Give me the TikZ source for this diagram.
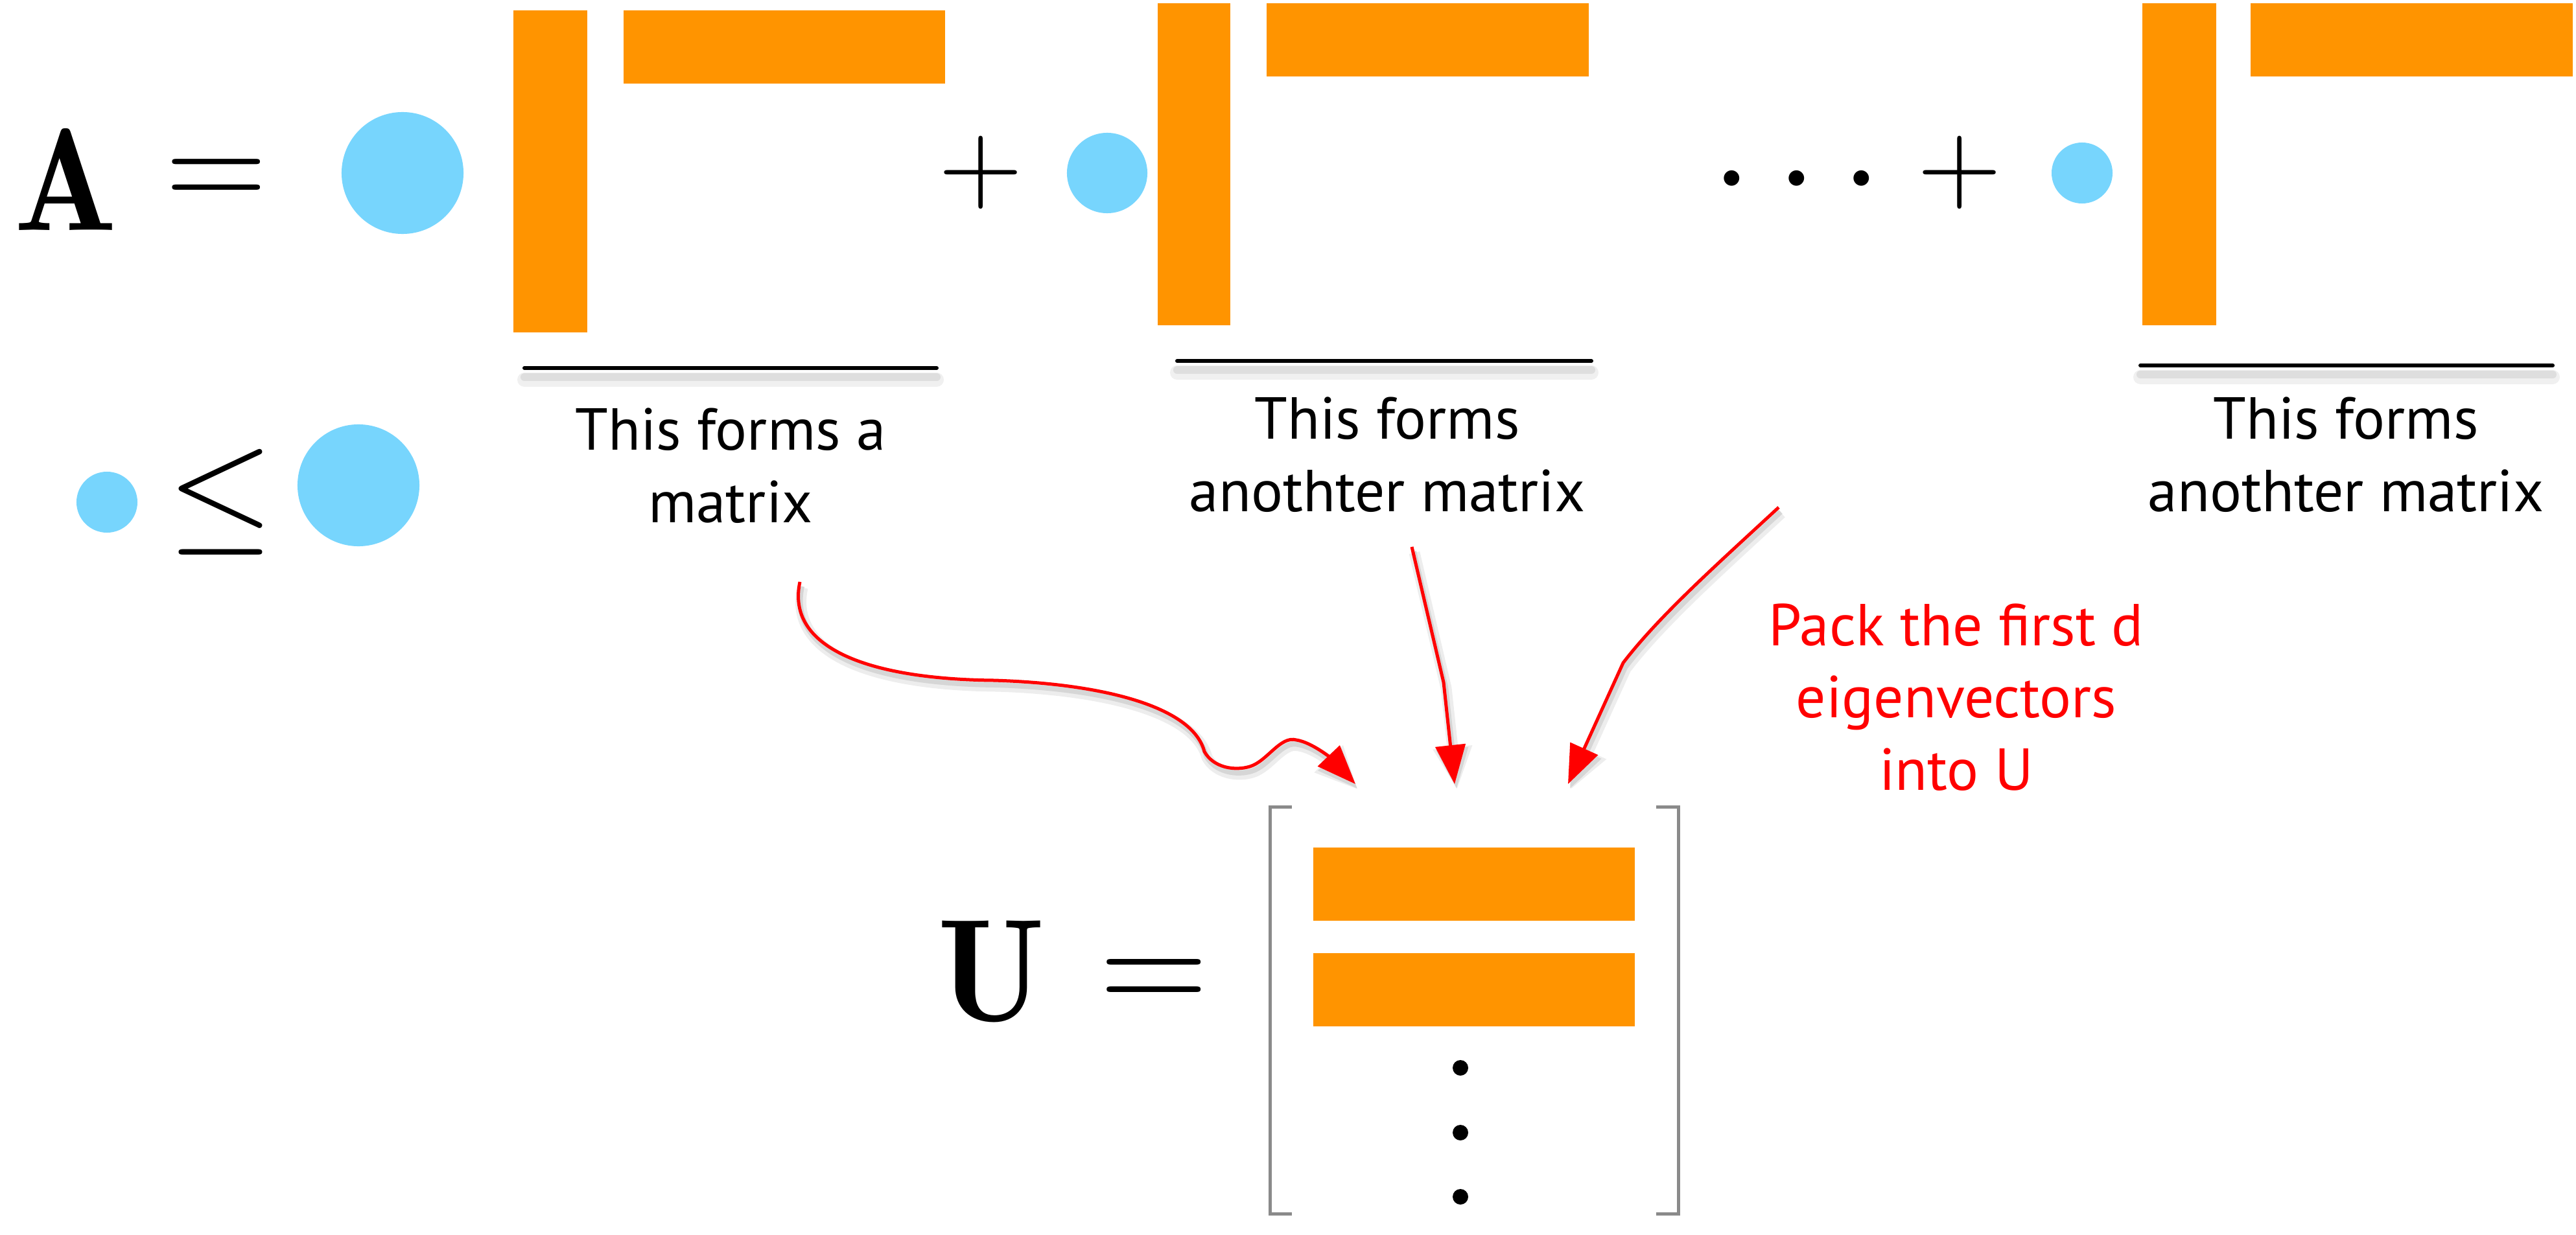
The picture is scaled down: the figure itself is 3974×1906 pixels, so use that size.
\documentclass[tikz,border=0pt]{standalone}
\usepackage{fontspec}
\newfontfamily\hand{PT Sans}
\usetikzlibrary{arrows.meta}
\definecolor{mango}{RGB}{255,148,0}
\definecolor{sky}{RGB}{119,213,253}
\definecolor{redline}{RGB}{255,0,0}
\definecolor{bracketgray}{RGB}{138,138,138}
\begin{document}
\begin{tikzpicture}[x=0.01cm,y=-0.01cm,
  bar/.style={fill=mango},
  dotc/.style={circle,fill=sky,inner sep=0,outer sep=0},
  mathsym/.style={inner sep=0,outer sep=0,font=\normalsize},
  caption/.style={font=\hand\fontsize{26}{31.6}\selectfont,align=center,inner sep=0,anchor=base},
  uline/.style={line width=0.06cm,line cap=round},
  ushadowa/.style={line width=0.22cm,black!6,line cap=round},
  ushadowb/.style={line width=0.12cm,black!13,line cap=round},
  redarrow/.style={draw=redline,line width=0.05cm,line join=round,-{Triangle[length=0.6cm,width=0.46cm]}},
  shadowa/.style={draw=black!7,line width=0.17cm,line join=round,-{Triangle[length=0.66cm,width=0.56cm]},transform canvas={shift={(0.04cm,-0.09cm)}}},
  shadowb/.style={draw=black!16,line width=0.08cm,line join=round,-{Triangle[length=0.62cm,width=0.48cm]},transform canvas={shift={(0.03cm,-0.07cm)}}},
]
\useasboundingbox (0,0) rectangle (3974,1906);

% --- top row: A = ...
\node[mathsym,anchor=base east,scale=6.4,xscale=0.93] (A) at (181,356) {$\mathbf{A}$};
\node[mathsym,scale=5.8] (eq1) at (334,283) {$=$};
\node[dotc,minimum size=1.88cm] (c1) at (621,267) {};
\fill[bar] (792,16) rectangle (906,513);
\fill[bar] (962,16) rectangle (1458,129);
\node[mathsym,scale=4.8] (plus1) at (1513,266) {$+$};
\node[dotc,minimum size=1.24cm] (c2) at (1708,267) {};
\fill[bar] (1786,5) rectangle (1898,502);
\fill[bar] (1954,5) rectangle (2451,118);
\node[mathsym,anchor=base,scale=6.4] (dots) at (2772,331) {$\cdots$};
\node[mathsym,scale=4.8] (plus2) at (3023,266) {$+$};
\node[dotc,minimum size=0.94cm] (c3) at (3212,267) {};
\fill[bar] (3305,5) rectangle (3419,502);
\fill[bar] (3472,5) rectangle (3969,118);

% --- underlines with shadows
\draw[ushadowa] (809,586) -- (1445,586);
\draw[ushadowb] (809,582) -- (1445,582);
\draw[uline] (809,568) -- (1445,568);
\draw[ushadowa] (1816,575) -- (2455,575);
\draw[ushadowb] (1816,571) -- (2455,571);
\draw[uline] (1816,557) -- (2455,557);
\draw[ushadowa] (3302,582) -- (3938,582);
\draw[ushadowb] (3302,578) -- (3938,578);
\draw[uline] (3302,564) -- (3938,564);

% --- captions
\node[caption] (l1) at (1127,806) {This forms a\\matrix};
\node[caption] (l2) at (2140,789) {This forms\\anothter matrix};
\node[caption] (l3) at (3619,789) {This forms\\anothter matrix};
\node[caption,text=redline] (l4) at (3018,1219) {Pack the first d\\eigenvectors\\into U};

% --- small <= big
\node[dotc,minimum size=0.94cm] (c4) at (165,775) {};
\node[mathsym,scale=6.0] (leq) at (341,775) {$\leq$};
\node[dotc,minimum size=1.88cm] (c5) at (553,749) {};

% --- U = [ ... ]
\node[mathsym,anchor=base,scale=6.4,xscale=0.96] (U) at (1530,1575) {$\mathbf{U}$};
\node[mathsym,scale=6.2] (eq2) at (1780,1520) {$=$};
\draw[bracketgray,line width=0.05cm] (1993,1245) -- (1959,1245) -- (1959,1873) -- (1993,1873);
\draw[bracketgray,line width=0.05cm] (2555,1245) -- (2589,1245) -- (2589,1873) -- (2555,1873);
\fill[bar] (2026,1308) rectangle (2522,1421);
\fill[bar] (2026,1471) rectangle (2522,1584);
\fill (2253,1648) circle[radius=12];
\fill (2253,1748) circle[radius=12];
\fill (2253,1847) circle[radius=12];

% --- arrows
\coordinate (s1) at (1234,898);
\coordinate (t1) at (2091,1210);
\coordinate (s2) at (2178,844);
\coordinate (k2) at (2227,1053);
\coordinate (t2) at (2244,1210);
\coordinate (s3) at (2744,783);
\coordinate (k3) at (2504,1023);
\coordinate (t3) at (2419,1210);

\foreach \st in {shadowa,shadowb,redarrow}{
  \draw[\st] (s1) .. controls (1212,1000) and (1340,1048) .. (1533,1050)
     .. controls (1700,1055) and (1840,1090) .. (1858,1160)
     .. controls (1872,1185) and (1905,1190) .. (1928,1183)
     .. controls (1955,1175) and (1975,1135) .. (2000,1142)
     .. controls (2025,1146) and (2055,1172) .. (t1);
  \draw[\st] (s2) -- (k2) -- (t2);
  \draw[\st] (s3) .. controls (2650,870) and (2560,950) .. (k3) -- (t3);
}
\end{tikzpicture}
\end{document}
